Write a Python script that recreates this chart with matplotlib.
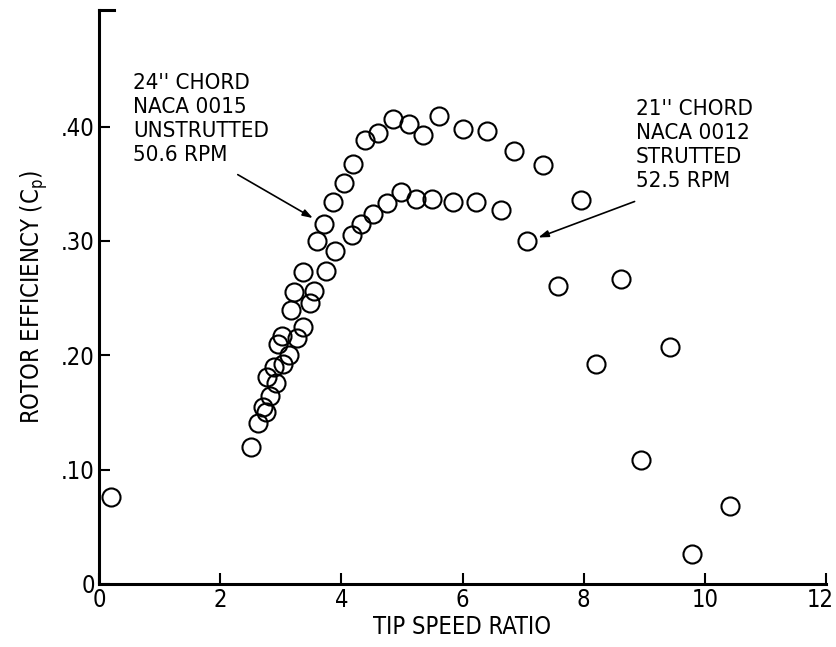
import matplotlib
matplotlib.use("Agg")
import matplotlib.pyplot as plt
import matplotlib.transforms as mtransforms
from matplotlib import font_manager

# pick a condensed face if there is one
names = {f.name for f in font_manager.fontManager.ttflist}
if "Liberation Sans Narrow" in names:
    plt.rcParams["font.family"] = ["Liberation Sans Narrow", "DejaVu Sans"]
else:
    plt.rcParams["font.family"] = ["DejaVu Sans"]
    plt.rcParams["font.stretch"] = "condensed"

# 24" chord, NACA 0015, unstrutted, 50.6 rpm
tsr_24 = [0.2, 2.51, 2.62, 2.70, 2.78, 2.95, 3.02, 3.17, 3.22, 3.37, 3.60, 3.71,
          3.87, 4.05, 4.20, 4.39, 4.61, 4.86, 5.12, 5.35, 5.61, 6.00, 6.40,
          6.85, 7.33, 7.95]
cp_24 = [0.076, 0.120, 0.141, 0.155, 0.181, 0.210, 0.217, 0.240, 0.255, 0.273,
         0.300, 0.315, 0.334, 0.351, 0.367, 0.388, 0.394, 0.407, 0.402, 0.393,
         0.409, 0.398, 0.396, 0.379, 0.366, 0.336]

# 21" chord, NACA 0012, strutted, 52.5 rpm
tsr_21 = [2.76, 2.83, 2.88, 2.92, 3.03, 3.14, 3.26, 3.37, 3.48, 3.55, 3.75,
          3.89, 4.18, 4.33, 4.53, 4.76, 4.99, 5.23, 5.50, 5.85, 6.23, 6.63,
          7.06, 7.57, 8.20, 8.61, 8.94, 9.43, 9.79, 10.42]
cp_21 = [0.150, 0.164, 0.190, 0.176, 0.192, 0.200, 0.215, 0.225, 0.246, 0.256,
         0.274, 0.291, 0.305, 0.315, 0.324, 0.333, 0.343, 0.337, 0.337, 0.334,
         0.334, 0.327, 0.300, 0.261, 0.192, 0.267, 0.108, 0.207, 0.026, 0.068]

x_ticks = [0, 2, 4, 6, 8, 10, 12]
y_ticks = [0, 0.10, 0.20, 0.30, 0.40]
y_tick_labels = ["0", ".10", ".20", ".30", ".40"]

label_24 = "24'' CHORD\nNACA 0015\nUNSTRUTTED\n50.6 RPM"
label_21 = "21'' CHORD\nNACA 0012\nSTRUTTED\n52.5 RPM"

fig = plt.figure(figsize=(8.37, 6.47), dpi=100)
ax = fig.add_axes([0.1183, 0.0974, 0.8686, 0.8872])

ax.plot(tsr_24, cp_24, "o", ms=13, mfc="none", mec="black", mew=1.5, clip_on=False)
ax.plot(tsr_21, cp_21, "o", ms=13, mfc="none", mec="black", mew=1.5, clip_on=False)

ax.set_xlim(0, 12)
ax.set_ylim(0, 0.502)
ax.set_xticks(x_ticks)
ax.set_yticks(y_ticks)
ax.set_yticklabels(y_tick_labels)

for side in ["top", "right"]:
    ax.spines[side].set_visible(False)
for side in ["left", "bottom"]:
    ax.spines[side].set_linewidth(2.2)

ax.tick_params(direction="in", length=8, width=1.5, labelsize=17, pad=3)

# nudge the last x label so it stays on the page
last = ax.get_xticklabels()[-1]
last.set_transform(last.get_transform() +
                   mtransforms.ScaledTranslation(-4 / 72, 0, fig.dpi_scale_trans))

# small closing mark at the top of the frame
ax.plot([0, 0.02], [1, 1], color="black", lw=2.2, transform=ax.transAxes, clip_on=False)

ax.set_xlabel("TIP SPEED RATIO", fontsize=17, labelpad=2)
ax.set_ylabel("ROTOR EFFICIENCY (C$_\\mathregular{p}$)", fontsize=17, labelpad=8)

ax.text(0.56, 0.447, label_24, fontsize=16, va="top", ha="left", linespacing=1.25)
ax.text(8.86, 0.424, label_21, fontsize=16, va="top", ha="left", linespacing=1.25)

arrow = dict(arrowstyle="-|>,head_length=0.6,head_width=0.2", color="black", lw=1.2,
             shrinkA=0, shrinkB=0)
ax.annotate("", xy=(3.53, 0.320), xytext=(2.29, 0.358), arrowprops=arrow)
ax.annotate("", xy=(7.25, 0.303), xytext=(8.84, 0.3345), arrowprops=arrow)

fig.savefig("out.png", dpi=100)
